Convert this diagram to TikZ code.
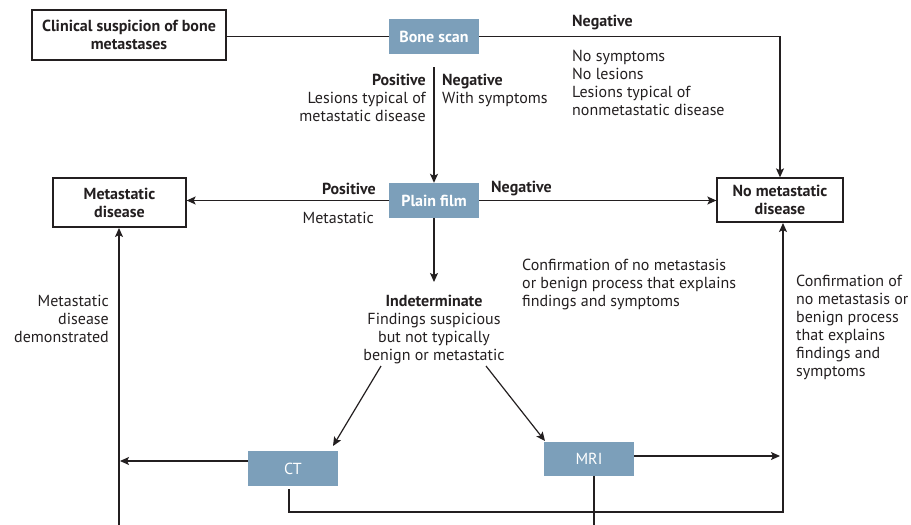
\documentclass[tikz,border=0pt]{standalone}
\usepackage{fontspec}
\setmainfont{PT Sans}
\usetikzlibrary{arrows.meta}
\definecolor{ink}{HTML}{231F20}
\definecolor{boxblue}{HTML}{7C9FBA}
\tikzset{
  x=1pt,y=-1pt,
  every node/.style={font=\fontsize{16}{18}\selectfont, text=ink, inner sep=0pt},
  wbox/.style={draw=ink, line width=1.3pt, fill=white, align=center, font=\fontsize{16}{18}\selectfont\bfseries},
  bbox/.style={fill=boxblue, text=white, minimum width=90pt, minimum height=35pt, font=\fontsize{16}{18}\selectfont\bfseries},
  cbox/.style={fill=boxblue, text=white, minimum width=90pt, minimum height=35pt},
  conn/.style={draw=ink, line width=1.2pt},
  arr/.style={conn, -{Stealth[length=9pt,width=8pt,inset=2pt]}},
  lbl/.style={align=left},
  bold/.style={font=\fontsize{16}{18}\selectfont\bfseries},
}
\begin{document}
\begin{tikzpicture}
\useasboundingbox (0,0) rectangle (911,525);
% boxes
\node[wbox, minimum width=194pt, minimum height=50pt] (clin) at (129,35) {Clinical suspicion of bone\\metastases};
\node[bbox] (bone) at (434,36.5) {Bone scan};
\node[bbox] (plain) at (434,200.5) {Plain film};
\node[wbox, minimum width=133pt, minimum height=49pt] (meta) at (119.5,202.5) {Metastatic\\disease};
\node[wbox, minimum width=126pt, minimum height=44pt] (nometa) at (780,200) {No metastatic\\disease};
\node[cbox] (ct) at (293,468.5) {CT};
\node[cbox, minimum height=34pt] (mri) at (589,459) {MRI};
% coordinates
\coordinate (bs1) at (434,67);
\coordinate (ind) at (434,282);
\coordinate (d1s) at (381,366);
\coordinate (d1e) at (333,446);
\coordinate (d2s) at (486,366);
\coordinate (d2e) at (545,441);
\coordinate (ctl) at (120,461);
\coordinate (ctw) at (248,461);
\coordinate (mre) at (634,456);
\coordinate (mrr) at (780,456);
\coordinate (cb0) at (289,489);
\coordinate (cb1) at (289,512);
\coordinate (cb2) at (783,512);
\coordinate (cbt) at (783,223);
\coordinate (lb) at (119,525);
\coordinate (lt) at (119,228);
\coordinate (mb) at (594,525);
% connectors
\draw[conn] (clin.east |- bone.west) -- (bone.west);
\draw[arr] (bone.east) -| (nometa.north);
\draw[arr] (bs1) -- (plain.north);
\draw[arr] (plain.west) -- (plain.west -| meta.east);
\draw[arr] (plain.east) -- (plain.east -| nometa.west);
\draw[arr] (plain.south) -- (ind);
\draw[arr] (d1s) -- (d1e);
\draw[arr] (d2s) -- (d2e);
\draw[arr] (ctw) -- (ctl);
\draw[arr] (mre) -- (mrr);
\draw[arr] (cb0) -- (cb1) -- (cb2) -- (cbt);
\draw[arr] (lb) -- (lt);
\draw[conn] (mri.south -| mb) -- (mb);
% labels
\node[anchor=base west, bold] (negtop) at (572,26) {Negative};
\node[anchor=north west, lbl] (negtxt) at (572,50) {No symptoms\\No lesions\\Lesions typical of\\nonmetastatic disease};
\node[anchor=north east, align=right] (postxt) at (426,74) {\textbf{Positive}\\Lesions typical of\\metastatic disease};
\node[anchor=north west, lbl] (negtxt2) at (442,74) {\textbf{Negative}\\With symptoms};
\node[anchor=base east, bold] (pfpos) at (376,194) {Positive};
\node[anchor=base east] (pfmet) at (374,223) {Metastatic};
\node[anchor=base west, bold] (pfneg) at (491,192) {Negative};
\node[anchor=north, align=center] (indtxt) at (434,295) {\textbf{Indeterminate}\\Findings suspicious\\but not typically\\benign or metastatic};
\node[anchor=north west, lbl] (conf1) at (522,259) {Confirmation of no metastasis\\or benign process that explains\\findings and symptoms};
\node[anchor=north west, lbl] (conf2) at (796,275) {Confirmation of\\no metastasis or\\benign process\\that explains\\findings and\\symptoms};
\node[anchor=north east, align=right] (mdd) at (109,295) {Metastatic\\disease\\demonstrated};
\end{tikzpicture}
\end{document}
